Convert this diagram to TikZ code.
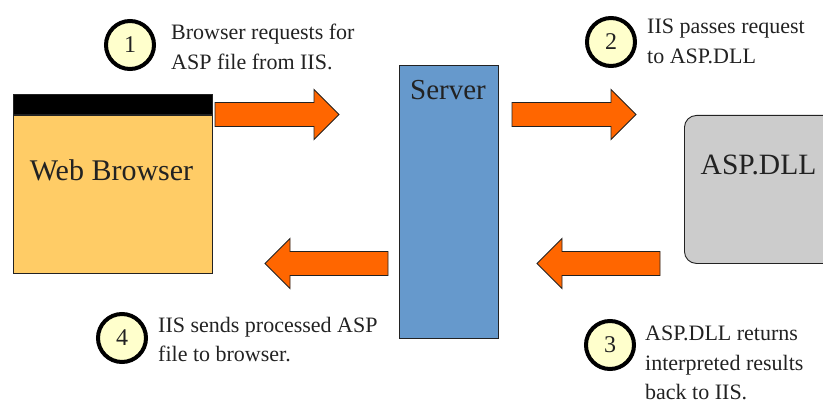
\documentclass[tikz,border=0pt]{standalone}
\usepackage{fontspec}
\setmainfont{Liberation Serif}
\usetikzlibrary{calc}
\definecolor{browserfill}{HTML}{FFCC66}
\definecolor{serverfill}{HTML}{6699CC}
\definecolor{dllfill}{HTML}{CCCCCC}
\definecolor{arrowfill}{HTML}{FF6600}
\definecolor{stepfill}{HTML}{FFFFCC}
\definecolor{inkgray}{HTML}{222222}
\tikzset{
  box/.style={draw=inkgray, line width=0.9pt, inner sep=0pt},
  stepnum/.style={circle, draw=black, line width=4pt, fill=stepfill,
    minimum size=48, inner sep=0pt, text=inkgray, font=\fontsize{24}{24}\selectfont},
  steptext/.style={anchor=north west, align=left, inner sep=0pt,
    text=inkgray, font=\fontsize{22}{29.5}\selectfont},
  biglabel/.style={inner sep=0pt, text=inkgray, font=\fontsize{29.5}{29.5}\selectfont},
  blockarrow/.style={draw=inkgray, line width=0.9pt, fill=arrowfill, line join=miter},
}
\newcommand\blockarrow[3]{%
  \draw[blockarrow] ($(#1)+(0,-12)$) -- ($(#2)+({-25*#3},-12)$)
    -- ($(#2)+({-25*#3},-25)$) -- (#2) -- ($(#2)+({-25*#3},25)$)
    -- ($(#2)+({-25*#3},12)$) -- ($(#1)+(0,12)$) -- cycle;}
\begin{document}
\begin{tikzpicture}[x=1pt,y=-1pt]
  \useasboundingbox (0,0) rectangle (823,404);
  \node[box, fill=browserfill, minimum width=199, minimum height=158] (browser) at (112.5,194) {};
  \node[box, fill=black, minimum width=199, minimum height=20, anchor=south] (titlebar) at (browser.north) {};
  \node[biglabel, font=\fontsize{30}{30}\selectfont] (browserlabel) at (111.5,170) {Web Browser};
  \node[box, fill=serverfill, minimum width=99, minimum height=273] (server) at (448.5,201.5) {};
  \node[biglabel, font=\fontsize{29}{29}\selectfont] (serverlabel) at (448,90) {Server};
  \node[box, rounded corners=12, fill=dllfill, minimum width=160, minimum height=148, anchor=north west] (dll) at (684,115) {};
  \node[biglabel] (dlllabel) at (758.5,165) {ASP.DLL};

  \coordinate (a1tail) at (215,114.5);
  \coordinate (a1tip) at (339,114.5);
  \coordinate (a2tail) at (512,114.5);
  \coordinate (a2tip) at (636,114.5);
  \coordinate (a3tail) at (660,263.5);
  \coordinate (a3tip) at (537,263.5);
  \coordinate (a4tail) at (388,263.5);
  \coordinate (a4tip) at (265,263.5);
  \blockarrow{a1tail}{a1tip}{1}
  \blockarrow{a2tail}{a2tip}{1}
  \blockarrow{a3tail}{a3tip}{-1}
  \blockarrow{a4tail}{a4tip}{-1}

  \node[stepnum] (s1) at (130,45) {1};
  \node[stepnum] (s2) at (611,42) {2};
  \node[stepnum] (s3) at (610,345) {3};
  \node[stepnum] (s4) at (122,338) {4};
  \node[steptext] (t1) at (171,24) {Browser requests for\\ASP file from IIS.};
  \node[steptext] (t2) at (647,19) {IIS passes request\\to ASP.DLL};
  \node[steptext] (t3) at (645,326) {ASP.DLL returns\\interpreted results\\back to IIS.};
  \node[steptext] (t4) at (158,317) {IIS sends processed ASP\\file to browser.};
\end{tikzpicture}
\end{document}
